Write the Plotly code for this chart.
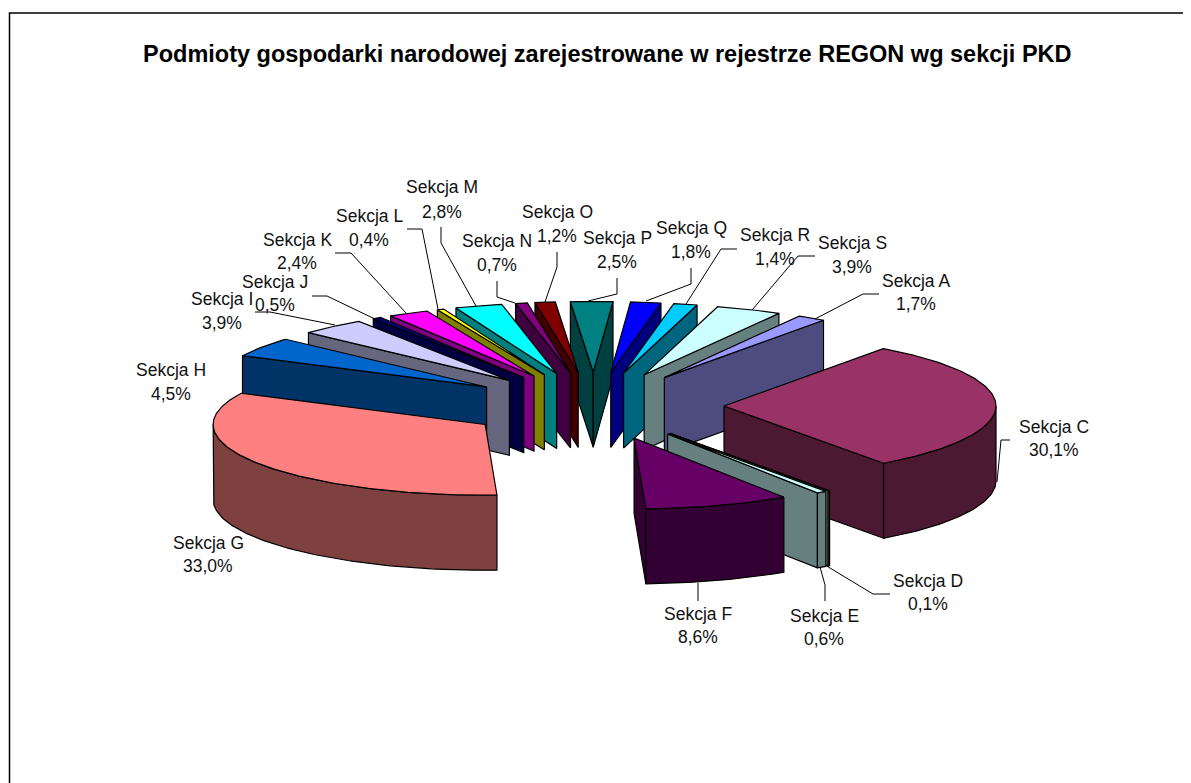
import numpy as np
import plotly.graph_objects as go

# --- data ---
sections = ["A", "C", "D", "E", "F", "G", "H", "I", "J", "K", "L", "M", "N", "O", "P", "Q", "R", "S"]
values = [1.7, 30.1, 0.1, 0.6, 8.6, 33.0, 4.5, 3.9, 0.5, 2.4, 0.4, 2.8, 0.7, 1.2, 2.5, 1.8, 1.4, 3.9]
colors = ["#9999FF", "#993366", "#FFFFCC", "#CCFFFF", "#660066", "#FF8080", "#0066CC", "#CCCCFF", "#000080",
          "#FF00FF", "#FFFF00", "#00FFFF", "#800080", "#800000", "#008080", "#0000FF", "#00CCFF", "#CCFFFF"]
title = "Podmioty gospodarki narodowej zarejestrowane w rejestrze REGON wg sekcji PKD"

# --- projection of the tilted, exploded pie ---
CX, CY, RADIUS, EXPLODE, DEPTH, TILT = 594.0, 406.0, 272.0, 130.0, 75.0, 0.26
START_DEG = 29.7
LINE = dict(color="black", width=1.2)


def darker(hex_color):
    r, g, b = (int(hex_color[i:i + 2], 16) // 2 for i in (1, 3, 5))
    return f"#{r:02X}{g:02X}{b:02X}"


total = sum(values)
cum = np.concatenate([[0], np.cumsum(values)]) / total * 360 + START_DEG
slices = []
for i, val in enumerate(values):
    a0, a1 = np.radians(cum[i]), np.radians(cum[i + 1])
    mid = (a0 + a1) / 2
    ax, ay = EXPLODE * np.sin(mid), EXPLODE * np.cos(mid)
    slices.append((np.cos(mid), a0, a1, ax, ay, colors[i]))
slices.sort(key=lambda s: -s[0])


def project(wx, wy):
    return CX + np.asarray(wx), CY - TILT * np.asarray(wy)


fig = go.Figure()


def face(xs, ys, color):
    fig.add_trace(go.Scatter(x=list(xs), y=list(ys), mode="lines", fill="toself", fillcolor=color,
                             line=LINE, hoverinfo="skip", showlegend=False))


for _, a0, a1, ax, ay, col in slices:
    wall = darker(col)
    # radial walls facing the viewer
    for ang, visible in ((a0, np.sin(a0) < 0), (a1, np.sin(a1) > 0)):
        if visible:
            wx = [ax, ax + RADIUS * np.sin(ang)]
            wy = [ay, ay + RADIUS * np.cos(ang)]
            tx, ty = project(wx, wy)
            face(np.r_[tx, tx[::-1], tx[0]], np.r_[ty, ty[::-1] + DEPTH, ty[0]], wall)
    # outer wall (front part of the rim)
    full = np.linspace(a0, a1, 200)
    full = full[np.cos(full) < 0]
    if full.size > 1:
        rim = np.linspace(full[0], full[-1], max(4, int(np.degrees(full[-1] - full[0])) + 2))
        tx, ty = project(ax + RADIUS * np.sin(rim), ay + RADIUS * np.cos(rim))
        face(np.r_[tx, tx[::-1], tx[0]], np.r_[ty, ty[::-1] + DEPTH, ty[0]], wall)
    # top face
    arc = np.linspace(a0, a1, max(4, int(np.degrees(a1 - a0)) + 2))
    tx, ty = project(ax + RADIUS * np.sin(arc), ay + RADIUS * np.cos(arc))
    cx0, cy0 = project([ax], [ay])
    face(np.r_[cx0, tx, cx0], np.r_[cy0, ty, cy0], col)

# --- label placement (pixel layout of the annotations) ---
label_pos = {
    "A": (916, 281, 304), "C": (1054, 427, 450), "D": (928, 581, 604), "E": (824, 616, 639),
    "F": (698, 614, 637), "G": (208, 543, 566), "H": (171, 370, 394), "I": (222, 299, 323),
    "J": (275, 282, 305), "K": (297, 240, 263), "L": (369, 216, 240), "M": (442, 187, 212),
    "N": (497, 241, 265), "O": (557, 212, 236), "P": (617, 238, 262), "Q": (691, 228, 252),
    "R": (775, 235, 259), "S": (852, 243, 267),
}
leaders = [
    [(879, 294), (863, 294), (815, 319)], [(815, 256), (798, 256), (752, 310)],
    [(737, 249), (721, 249), (686, 304)], [(691, 268), (691, 284), (646, 301)],
    [(617, 278), (617, 294), (588, 301)], [(557, 252), (557, 267), (545, 302)],
    [(497, 281), (497, 297), (515, 303)], [(441, 227), (441, 243), (476, 306)],
    [(407, 229), (422, 229), (438, 309)], [(335, 253), (351, 253), (406, 313)],
    [(312, 296), (327, 296), (377, 320)], [(255, 312), (270, 312), (335, 325)],
    [(698, 601), (698, 583)], [(825, 601), (825, 585), (820, 567)],
    [(890, 594), (873, 594), (825, 565)], [(1010, 440), (1001, 440), (997, 482)],
]
shapes = [dict(type="rect", xref="x", yref="y", x0=9.5, y0=13, x1=1300, y1=900,
               line=dict(color="black", width=1.5), fillcolor="rgba(0,0,0,0)")]
for pts in leaders:
    path = "M " + " L ".join(f"{x} {y}" for x, y in pts)
    shapes.append(dict(type="path", path=path, xref="x", yref="y", line=dict(color="black", width=1)))

FONT = "Liberation Sans, Arial, sans-serif"
annotations = [dict(x=607, y=54, xref="x", yref="y", text=f"<b>{title}</b>", showarrow=False,
                    font=dict(family=FONT, size=23.5, color="black"))]
for sec, val in zip(sections, values):
    x, y1, y2 = label_pos[sec]
    pct = f"{val:.1f}%".replace(".", ",")
    annotations.append(dict(x=x, y=y1, xref="x", yref="y", text=f"Sekcja {sec}", showarrow=False,
                            font=dict(family=FONT, size=17.5, color="#111111")))
    annotations.append(dict(x=x, y=y2, xref="x", yref="y", text=pct, showarrow=False,
                            font=dict(family=FONT, size=17.5, color="#111111")))

fig.update_layout(
    width=1183, height=775, margin=dict(l=0, r=0, t=0, b=0), autosize=False,
    paper_bgcolor="white", plot_bgcolor="white", showlegend=False,
    xaxis=dict(range=[8, 1191], visible=False, fixedrange=True),
    yaxis=dict(range=[783, 8], visible=False, fixedrange=True),
    shapes=shapes, annotations=annotations,
)
fig.write_html("out.html", config=dict(displayModeBar=False))
